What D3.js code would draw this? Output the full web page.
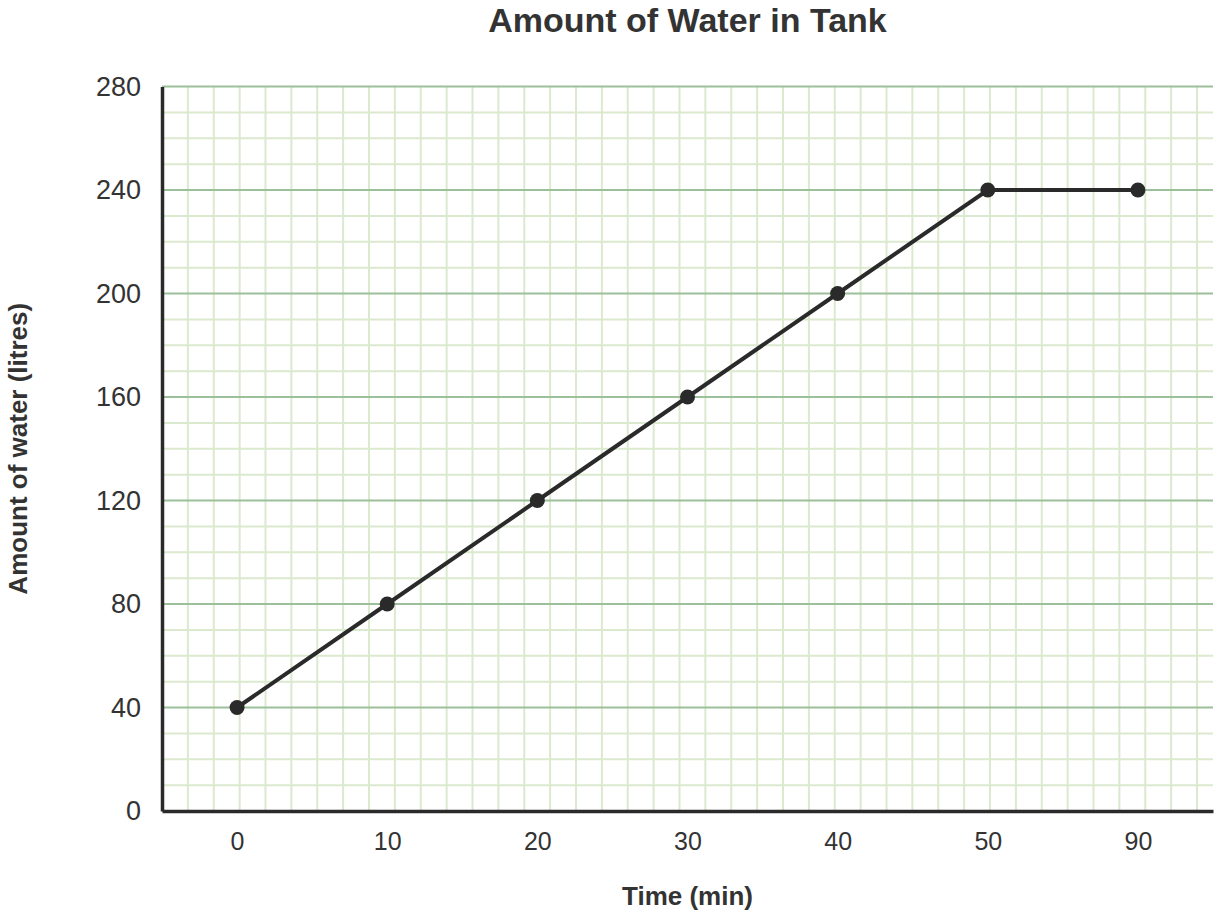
<!DOCTYPE html>
<html>
<head>
<meta charset="utf-8">
<script src="https://cdn.jsdelivr.net/npm/d3@7"></script>
<style>
  body { margin: 0; background: #fff; }
  text { font-family: "Liberation Sans", Arial, sans-serif; fill: #333; }
</style>
</head>
<body>
<div id="chart"></div>
<script>
const categories = ["0", "10", "20", "30", "40", "50", "90"];
const waterValues = [40, 80, 120, 160, 200, 240, 240];
const yTicks = [0, 40, 80, 120, 160, 200, 240, 280];

const width = 1220;
const height = 918;
const margin = { top: 86.5, right: 7, bottom: 107, left: 162 };

const svg = d3
  .select("#chart")
  .append("svg")
  .attr("width", width)
  .attr("height", height);

const x = d3
  .scalePoint()
  .domain(categories)
  .range([margin.left, width - margin.right])
  .padding(0.5);

const y = d3
  .scaleLinear()
  .domain([0, 280])
  .range([height - margin.bottom, margin.top]);

// square grid: cell = 10 litres
const cell = y(0) - y(10);
const grid = svg.append("g");

const vLines = d3.range(margin.left + cell, width - margin.right, cell);
grid
  .selectAll(".vline")
  .data(vLines)
  .enter()
  .append("line")
  .attr("x1", (d) => d)
  .attr("x2", (d) => d)
  .attr("y1", y(280))
  .attr("y2", y(0))
  .attr("stroke", "#dbe9cf")
  .attr("stroke-width", 2);

const minor = d3.range(10, 281, 10).filter((d) => d % 40 !== 0);
grid
  .selectAll(".hminor")
  .data(minor)
  .enter()
  .append("line")
  .attr("x1", margin.left)
  .attr("x2", width - margin.right)
  .attr("y1", (d) => y(d))
  .attr("y2", (d) => y(d))
  .attr("stroke", "#dbe9cf")
  .attr("stroke-width", 2);

grid
  .selectAll(".hmajor")
  .data(yTicks.filter((d) => d > 0))
  .enter()
  .append("line")
  .attr("x1", margin.left)
  .attr("x2", width - margin.right)
  .attr("y1", (d) => y(d))
  .attr("y2", (d) => y(d))
  .attr("stroke", "#9cc09a")
  .attr("stroke-width", 2.2);

// axes
const xAxis = svg
  .append("g")
  .attr("transform", `translate(0,${y(0)})`)
  .call(d3.axisBottom(x).tickSize(0).tickPadding(21));
xAxis.select(".domain").attr("stroke", "#2a2a2a").attr("stroke-width", 3.5);
xAxis.selectAll("text").style("font-size", "25px").attr("fill", "#333");

const yAxis = svg
  .append("g")
  .attr("transform", `translate(${margin.left},0)`)
  .call(d3.axisLeft(y).tickValues(yTicks).tickSize(0).tickPadding(21));
yAxis.select(".domain").attr("stroke", "#2a2a2a").attr("stroke-width", 3.5);
yAxis.selectAll("text").style("font-size", "27px").attr("fill", "#333");

// line + dots
const points = categories.map((c, i) => ({ t: c, v: waterValues[i] }));

svg
  .append("path")
  .datum(points)
  .attr("fill", "none")
  .attr("stroke", "#2a2a2a")
  .attr("stroke-width", 4)
  .attr(
    "d",
    d3
      .line()
      .x((d) => x(d.t))
      .y((d) => y(d.v))
  );

svg
  .selectAll(".dot")
  .data(points)
  .enter()
  .append("circle")
  .attr("class", "dot")
  .attr("cx", (d) => x(d.t))
  .attr("cy", (d) => y(d.v))
  .attr("r", 7.5)
  .attr("fill", "#2a2a2a");

// titles
const cx = (margin.left + width - margin.right) / 2;

svg
  .append("text")
  .attr("x", cx)
  .attr("y", 32)
  .attr("text-anchor", "middle")
  .style("font-size", "34px")
  .style("font-weight", "bold")
  .text("Amount of Water in Tank");

svg
  .append("text")
  .attr("x", cx)
  .attr("y", 905)
  .attr("text-anchor", "middle")
  .style("font-size", "26px")
  .style("font-weight", "bold")
  .text("Time (min)");

svg
  .append("text")
  .attr("transform", `translate(27,${(y(0) + y(280)) / 2}) rotate(-90)`)
  .attr("text-anchor", "middle")
  .style("font-size", "26px")
  .style("font-weight", "bold")
  .text("Amount of water (litres)");
</script>
</body>
</html>
